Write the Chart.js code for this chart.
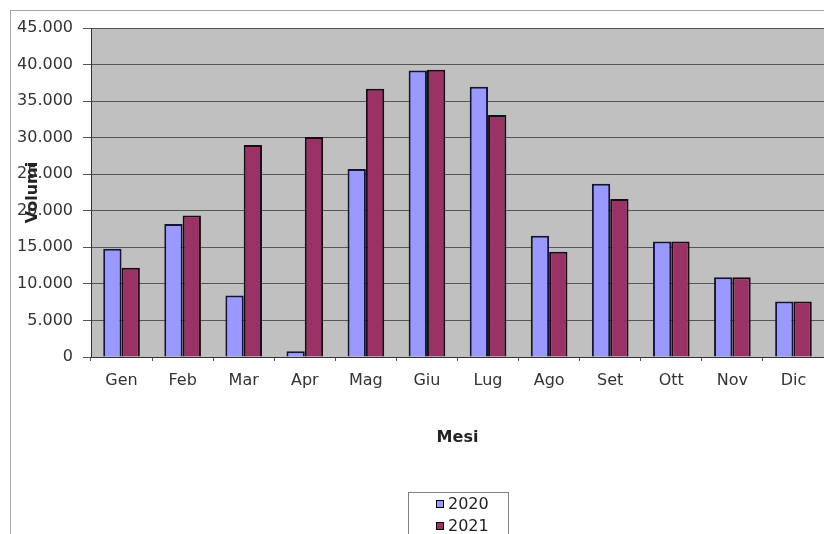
<!DOCTYPE html>
<html>
<head>
<meta charset="utf-8">
<script src="https://cdn.jsdelivr.net/npm/chart.js@4"></script>
<style>
  html, body { margin: 0; padding: 0; background: #fff; overflow: hidden; }
  #wrap { width: 824px; height: 534px; position: relative; }
</style>
</head>
<body>
<div id="wrap"><canvas id="chart" width="824" height="534"></canvas></div>
<script>
// month labels (Italian)
const mesi = ['Gen', 'Feb', 'Mar', 'Apr', 'Mag', 'Giu', 'Lug', 'Ago', 'Set', 'Ott', 'Nov', 'Dic'];

// volumes
const volumi2020 = [14800, 18200, 8400, 800, 25700, 39200, 36950, 16600, 23700, 15800, 10900, 7600];
const volumi2021 = [12200, 19350, 29000, 30100, 36700, 39300, 33100, 14400, 21600, 15800, 10900, 7600];

const seriesNames = ['2020', '2021'];
const yTicks = [0, 5000, 10000, 15000, 20000, 25000, 30000, 35000, 40000, 45000];

const FONT = 'DejaVu Sans';

function formatIt(v) {
    return String(v).replace(/\B(?=(\d{3})+(?!\d))/g, '.');
}

// grey plot background + thin outer frame
const backdrop = {
    id: 'backdrop',
    beforeDraw(chart) {
        const ctx = chart.ctx;
        const a = chart.chartArea;
        ctx.save();
        ctx.strokeStyle = '#a8a8a8';
        ctx.lineWidth = 1;
        ctx.strokeRect(10.5, 10.5, 900, 600);
        ctx.fillStyle = '#c0c0c0';
        ctx.fillRect(a.left, a.top, a.right - a.left, a.bottom - a.top);
        ctx.restore();
    }
};

// boxed legend, entries stacked like the original
const boxLegend = {
    id: 'boxLegend',
    afterDraw(chart) {
        const ctx = chart.ctx;
        ctx.save();
        ctx.strokeStyle = '#808080';
        ctx.lineWidth = 1;
        ctx.strokeRect(408.5, 492.5, 100, 60);
        ctx.font = '16px "' + FONT + '"';
        ctx.textBaseline = 'middle';
        ctx.textAlign = 'left';
        chart.data.datasets.forEach(function(ds, i) {
            const cy = 504 + i * 22;
            ctx.fillStyle = ds.backgroundColor;
            ctx.fillRect(436, cy - 4, 8, 8);
            ctx.strokeStyle = '#000';
            ctx.strokeRect(436.5, cy - 3.5, 7, 7);
            ctx.fillStyle = '#222';
            ctx.fillText(ds.label, 448, cy + 1);
        });
        ctx.restore();
    }
};

new Chart(document.getElementById('chart'), {
    type: 'bar',
    data: {
        labels: mesi,
        datasets: [
            {
                label: seriesNames[0],
                data: volumi2020,
                backgroundColor: '#9999ff',
                borderColor: '#14143a',
                borderWidth: 2,
                categoryPercentage: 0.6,
                barPercentage: 1.0
            },
            {
                label: seriesNames[1],
                data: volumi2021,
                backgroundColor: '#993366',
                borderColor: '#1e0814',
                borderWidth: 2,
                categoryPercentage: 0.6,
                barPercentage: 1.0
            }
        ]
    },
    options: {
        responsive: false,
        animation: false,
        layout: { padding: { left: 10, top: 28, right: 0, bottom: 74 } },
        plugins: {
            legend: { display: false },
            tooltip: { enabled: false }
        },
        scales: {
            x: {
                offset: true,
                grid: {
                    offset: true,
                    drawOnChartArea: false,
                    color: '#555',
                    tickLength: 4
                },
                border: { display: true, color: '#333', width: 1 },
                ticks: {
                    color: '#333',
                    padding: 10,
                    font: { family: FONT, size: 16 }
                },
                title: {
                    display: true,
                    text: 'Mesi',
                    color: '#222',
                    font: { family: FONT, size: 16, weight: 'bold' },
                    padding: { top: 0, bottom: 13 }
                },
                afterFit(scale) { scale.height = 103; }
            },
            y: {
                min: 0,
                max: 45000,
                afterBuildTicks(scale) {
                    scale.ticks = yTicks.map(v => ({ value: v }));
                },
                grid: {
                    color: '#555',
                    tickColor: '#555',
                    tickLength: 8
                },
                border: { display: true, color: '#333', width: 1 },
                ticks: {
                    color: '#333',
                    padding: 10,
                    font: { family: FONT, size: 16 },
                    callback: function(value) { return formatIt(value); }
                },
                title: {
                    display: true,
                    text: 'Volumi',
                    color: '#222',
                    font: { family: FONT, size: 16, weight: 'bold' },
                    padding: { top: 13, bottom: 0 }
                },
                afterFit(scale) { scale.width = 81; }
            }
        }
    },
    plugins: [backdrop, boxLegend]
});
</script>
</body>
</html>
